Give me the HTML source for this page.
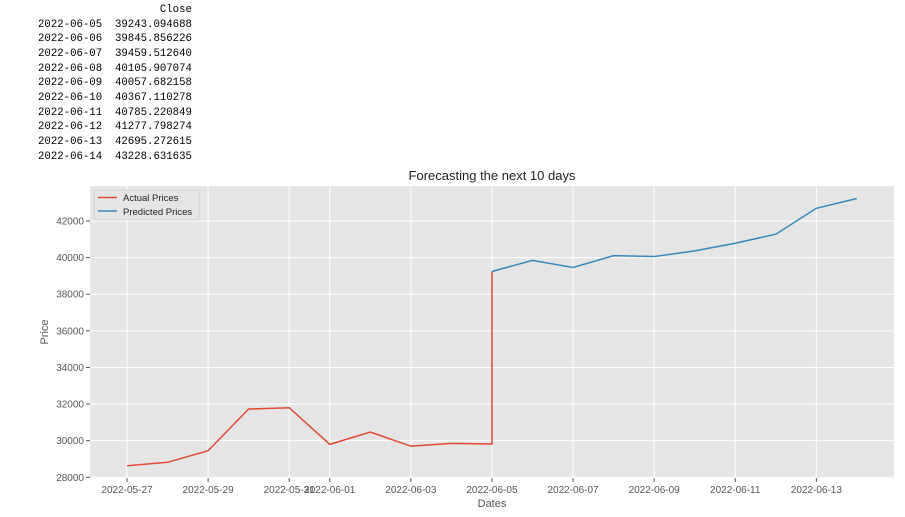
<!DOCTYPE html>
<html><head><meta charset="utf-8"><style>
body{margin:0;background:#fff;width:905px;height:517px;overflow:hidden;position:relative}
pre{position:absolute;left:38px;top:3px;margin:0;font:10.7px/14.65px "Liberation Mono",monospace;color:#000}
svg{position:absolute;left:0;top:0}
</style></head><body>
<pre>                   Close
2022-06-05  39243.094688
2022-06-06  39845.856226
2022-06-07  39459.512640
2022-06-08  40105.907074
2022-06-09  40057.682158
2022-06-10  40367.110278
2022-06-11  40785.220849
2022-06-12  41277.798274
2022-06-13  42695.272615
2022-06-14  43228.631635</pre>
<svg id="chart" width="905" height="517"></svg>
<script>
const actualDays=[0,1,2,3,4,5,6,7,8,9,9];
const actualValues=[28630,28820,29450,31730,31800,29800,30470,29700,29850,29820,39243];
const predDays=[9,10,11,12,13,14,15,16,17,18];
const predValues=[39243.09,39845.86,39459.51,40105.91,40057.68,40367.11,40785.22,41277.80,42695.27,43228.63];
const xTickDays=[0,2,4,5,7,9,11,13,15,17];
const xTickLabels=["2022-05-27","2022-05-29","2022-05-31","2022-06-01","2022-06-03","2022-06-05","2022-06-07","2022-06-09","2022-06-11","2022-06-13"];
const yTicks=[28000,30000,32000,34000,36000,38000,40000,42000];

const L=90,R=894,T=186,B=478;
const x=d=>127+d*40.55;
const y=v=>477.3-(v-28000)*(256.3/14000);
const svg=document.getElementById('chart');
const NS='http://www.w3.org/2000/svg';
function el(t,a,txt){const e=document.createElementNS(NS,t);for(const k in a)e.setAttribute(k,a[k]);if(txt!=null)e.textContent=txt;svg.appendChild(e);return e;}
let bg=el('rect',{x:L,y:T,width:R-L,height:B-T,fill:'#e5e5e5'});


yTicks.forEach(v=>{
 let g=el('line',{x1:L,x2:R,y1:y(v),y2:y(v),stroke:'#fff','stroke-width':1});
 
 
 el('line',{x1:L-4,x2:L,y1:y(v),y2:y(v),stroke:'#555'});
 let t=el('text',{x:L-6,y:y(v)+3.5,'text-anchor':'end','font-size':'10','font-family':'Liberation Sans, sans-serif',fill:'#555'},v);
 
 
});
xTickDays.forEach((d,i)=>{
 let g=el('line',{x1:x(d),x2:x(d),y1:T,y2:B,stroke:'#fff','stroke-width':1});
 
 
 el('line',{x1:x(d),x2:x(d),y1:B,y2:B+4,stroke:'#555'});
 let t=el('text',{x:x(d),y:B+15,'text-anchor':'middle','font-size':'10','font-family':'Liberation Sans, sans-serif',fill:'#555'},xTickLabels[i]);
 
 
});
let a=el('polyline',{points:actualDays.map((d,i)=>x(d)+','+y(actualValues[i])).join(' '),fill:'none',stroke:'#e24a33','stroke-width':1.5});


let p=el('polyline',{points:predDays.map((d,i)=>x(d)+','+y(predValues[i])).join(' '),fill:'none',stroke:'#348abd','stroke-width':1.5});


let ti=el('text',{x:(L+R)/2,y:180,'text-anchor':'middle','font-size':'13','font-family':'Liberation Sans, sans-serif',fill:'#222'},'Forecasting the next 10 days');


let xt=el('text',{x:(L+R)/2,y:507,'text-anchor':'middle','font-size':'11','font-family':'Liberation Sans, sans-serif',fill:'#555'},'Dates');


let yt=el('text',{x:48,y:332,'text-anchor':'middle','font-size':'11','font-family':'Liberation Sans, sans-serif',fill:'#555',transform:'rotate(-90 48 332)'},'Price');


let lg=el('rect',{x:94,y:190,width:105,height:30,fill:'#e5e5e5',stroke:'#ccc','stroke-width':0.8,rx:2});


el('line',{x1:98,x2:117,y1:197.5,y2:197.5,stroke:'#e24a33','stroke-width':1.5});
el('line',{x1:98,x2:117,y1:211,y2:211,stroke:'#348abd','stroke-width':1.5});
let l1=el('text',{x:123,y:201,'font-size':'9.5','font-family':'Liberation Sans, sans-serif',fill:'#222'},'Actual Prices');


let l2=el('text',{x:123,y:215,'font-size':'9.5','font-family':'Liberation Sans, sans-serif',fill:'#222'},'Predicted Prices');


</script>
</body></html>
